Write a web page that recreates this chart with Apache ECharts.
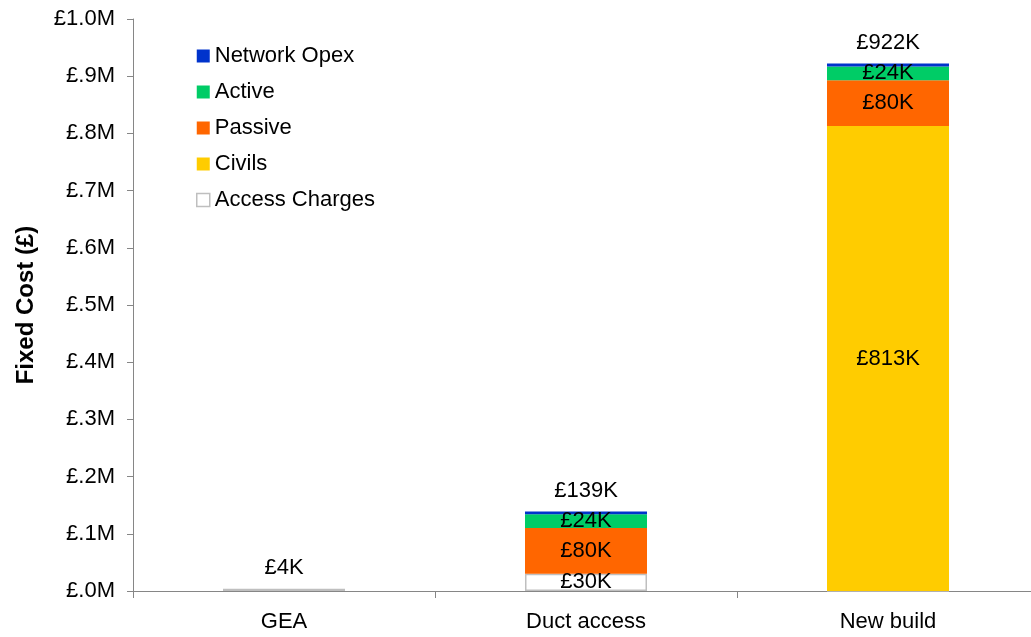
<!DOCTYPE html>
<html>
<head>
<meta charset="utf-8">
<script src="https://cdn.jsdelivr.net/npm/echarts@6/dist/echarts.min.js"></script>
<style>
  html, body { margin: 0; padding: 0; background: #fff; overflow: hidden; }
  #chart { width: 1039px; height: 637px; }
</style>
</head>
<body>
<div id="chart"></div>
<script>
// Fixed cost per deployment option, in £ thousands
const categories = ['GEA', 'Duct access', 'New build'];
const accessCharges = [4, 30, 0];
const civils = [0, 0, 813];
const passive = [0, 80, 80];
const active = [0, 24, 24];
const networkOpex = [0, 5, 5];
const yTicks = [0, 100, 200, 300, 400, 500, 600, 700, 800, 900, 1000];

const totals = categories.map((_, i) =>
  accessCharges[i] + civils[i] + passive[i] + active[i] + networkOpex[i]);

const FONT = 'Liberation Sans, Arial, sans-serif';
const AXIS_GREY = '#868686';
const fmtK = v => '£' + v + 'K';

function segment(name, data, color, extra) {
  return Object.assign({
    name: name,
    type: 'bar',
    stack: 'cost',
    barWidth: 122,
    data: data,
    itemStyle: { color: color },
    label: {
      show: true,
      position: 'inside',
      color: '#000',
      fontFamily: FONT,
      fontSize: 22,
      formatter: p => (p.value >= 10 ? fmtK(p.value) : '')
    },
    emphasis: { disabled: true }
  }, extra || {});
}

const chart = echarts.init(document.getElementById('chart'));
chart.setOption({
  animation: false,
  backgroundColor: '#fff',
  textStyle: { fontFamily: FONT },
  grid: { left: 133, top: 19, width: 906, height: 572, containLabel: false },
  legend: {
    orient: 'vertical',
    left: 196,
    top: 45,
    padding: 0,
    icon: 'rect',
    itemWidth: 13,
    itemHeight: 13,
    itemGap: 14,
    selectedMode: false,
    textStyle: { fontFamily: FONT, fontSize: 22, lineHeight: 22, color: '#000' },
    data: [
      { name: 'Network Opex' },
      { name: 'Active' },
      { name: 'Passive' },
      { name: 'Civils' },
      { name: 'Access Charges', itemStyle: { color: '#fff', borderColor: '#BFBFBF', borderWidth: 1.5 } }
    ]
  },
  xAxis: {
    type: 'category',
    data: categories,
    axisLine: { lineStyle: { color: AXIS_GREY, width: 1 } },
    axisTick: { show: true, length: 7, lineStyle: { color: AXIS_GREY } },
    axisLabel: { color: '#000', fontFamily: FONT, fontSize: 22, margin: 20 }
  },
  yAxis: {
    type: 'value',
    min: yTicks[0],
    max: yTicks[yTicks.length - 1],
    interval: yTicks[1] - yTicks[0],
    name: 'Fixed Cost (£)',
    nameLocation: 'middle',
    nameGap: 95,
    nameTextStyle: { fontFamily: FONT, fontSize: 24, fontWeight: 'bold', color: '#000' },
    splitLine: { show: false },
    axisLine: { show: true, lineStyle: { color: AXIS_GREY, width: 1 } },
    axisTick: { show: true, length: 6, lineStyle: { color: AXIS_GREY } },
    axisLabel: {
      color: '#000',
      fontFamily: FONT,
      fontSize: 22,
      margin: 18,
      formatter: v => v >= 1000 ? '£' + (v / 1000).toFixed(1) + 'M' : '£.' + Math.round(v / 100) + 'M'
    }
  },
  series: [
    {
      name: 'Total',
      type: 'bar',
      barWidth: 122,
      barGap: '-100%',
      z: 1,
      data: totals,
      itemStyle: { color: 'rgba(0,0,0,0)' },
      label: {
        show: true,
        position: 'top',
        distance: 10,
        color: '#000',
        fontFamily: FONT,
        fontSize: 22,
        formatter: p => fmtK(p.value)
      },
      emphasis: { disabled: true },
      tooltip: { show: false }
    },
    segment('Access Charges', accessCharges, '#FFFFFF', {
      itemStyle: { color: '#FFFFFF', borderColor: '#BFBFBF', borderWidth: 1.5 }
    }),
    segment('Civils', civils, '#FFCC00'),
    segment('Passive', passive, '#FF6600'),
    segment('Active', active, '#00CC66'),
    segment('Network Opex', networkOpex, '#0033CC', { label: { show: false } })
  ]
});
</script>
</body>
</html>
